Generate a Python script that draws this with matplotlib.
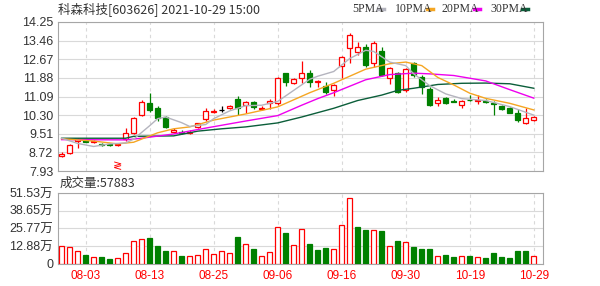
import matplotlib
matplotlib.use("Agg")
import matplotlib.pyplot as plt

plt.rcParams['font.family'] = ['Liberation Sans', 'Noto Sans CJK SC', 'DejaVu Sans']

# trading days 2021-07-29 .. 2021-10-29
dates = ['07-29', '07-30', '08-02', '08-03', '08-04', '08-05', '08-06', '08-09', '08-10', '08-11',
         '08-12', '08-13', '08-16', '08-17', '08-18', '08-19', '08-20', '08-23', '08-24', '08-25',
         '08-26', '08-27', '08-30', '08-31', '09-01', '09-02', '09-03', '09-06', '09-07', '09-08',
         '09-09', '09-10', '09-13', '09-14', '09-15', '09-16', '09-17', '09-22', '09-23', '09-24',
         '09-27', '09-28', '09-29', '09-30', '10-08', '10-11', '10-12', '10-13', '10-14', '10-15',
         '10-18', '10-19', '10-20', '10-21', '10-22', '10-25', '10-26', '10-27', '10-28', '10-29']
tick_dates = ['08-03', '08-13', '08-25', '09-06', '09-16', '09-30', '10-19', '10-29']

opens = [8.57, 8.68, 9.20, 9.24, 9.14, 9.08, 9.08, 9.03, 9.27, 9.55,
         10.30, 10.80, 10.59, 10.21, 9.60, 9.60, 9.54, 9.81, 10.12, 10.42,
         10.52, 10.62, 10.97, 10.73, 10.87, 10.57, 10.80, 10.80, 12.07, 11.68,
         11.86, 12.08, 11.70, 11.53, 11.37, 12.38, 13.13, 12.99, 13.20, 12.50,
         13.03, 11.86, 12.07, 11.37, 12.50, 11.93, 11.40, 10.83, 11.04, 10.88,
         10.74, 10.95, 10.92, 10.88, 10.82, 10.70, 10.59, 10.38, 9.95, 10.10]
highs = [8.72, 9.08, 9.32, 9.28, 9.24, 9.12, 9.12, 9.10, 9.74, 10.20,
         10.95, 11.23, 10.70, 10.25, 9.75, 9.66, 9.65, 9.98, 10.60, 10.55,
         10.70, 10.75, 11.10, 10.88, 10.90, 10.70, 10.98, 11.90, 12.10, 11.86,
         12.61, 12.20, 11.80, 11.70, 11.62, 12.80, 13.80, 13.40, 13.30, 13.45,
         13.20, 12.35, 12.15, 12.30, 12.55, 12.00, 11.50, 11.06, 11.06, 11.00,
         10.95, 11.15, 11.15, 11.00, 10.90, 10.75, 10.65, 10.55, 10.59, 10.25]
lows = [8.52, 8.65, 8.90, 9.14, 9.10, 9.00, 9.00, 9.00, 9.22, 9.50,
        10.25, 10.45, 10.07, 9.75, 9.55, 9.52, 9.50, 9.76, 10.05, 10.38,
        10.43, 10.56, 10.30, 10.37, 10.54, 10.50, 10.55, 10.75, 11.55, 11.60,
        11.68, 11.50, 11.50, 11.20, 11.10, 11.86, 12.52, 12.85, 12.35, 12.35,
        11.95, 11.60, 11.25, 11.30, 11.90, 11.20, 10.68, 10.68, 10.78, 10.85,
        10.60, 10.88, 10.76, 10.80, 10.30, 10.50, 10.38, 10.02, 9.93, 10.05]
closes = [8.65, 9.03, 9.28, 9.18, 9.20, 9.05, 9.05, 9.07, 9.53, 10.16,
          10.87, 10.52, 10.16, 9.81, 9.68, 9.56, 9.60, 9.95, 10.49, 10.48,
          10.52, 10.68, 10.59, 10.84, 10.66, 10.61, 10.92, 11.86, 11.72, 11.82,
          12.07, 11.70, 11.74, 11.29, 11.58, 12.75, 13.70, 13.20, 12.43, 13.37,
          12.00, 12.29, 11.29, 12.24, 12.00, 11.51, 10.75, 10.95, 10.82, 10.86,
          10.91, 10.93, 10.96, 10.86, 10.79, 10.55, 10.40, 10.10, 10.16, 10.22]

# volume in 万
volumes = [12.8, 12.0, 9.1, 6.6, 5.2, 5.2, 3.9, 4.7, 8.1, 16.9,
           18.4, 18.9, 13.0, 9.1, 9.1, 6.1, 5.9, 6.6, 11.0, 7.1,
           9.6, 8.3, 19.9, 14.5, 11.0, 5.9, 8.8, 26.5, 22.8, 13.7,
           25.5, 14.2, 9.8, 11.3, 10.8, 28.0, 48.1, 26.5, 25.0, 25.0,
           23.6, 12.8, 16.9, 15.9, 12.0, 10.8, 10.8, 5.9, 6.6, 5.2,
           5.9, 5.9, 5.2, 4.4, 8.1, 5.2, 4.4, 9.1, 9.1, 5.79]
vol_side = "RRRGRGGRRR" "RGGGRGRRRR" "RRGRGRRRGR" "RGGGRRRGGR" "GRGRGGGRGG" "RGRGGGGGGR"

# moving averages (day index, value)
ma5_idx = [0, 2, 4, 6, 8, 9, 11, 12, 13, 14, 15, 16, 18, 19, 21, 23, 25, 27, 29, 31, 32,
           34, 36, 38, 39, 41, 43, 44, 46, 48, 50, 53, 56, 59]
ma5_val = [9.32, 9.10, 8.97, 9.08, 9.12, 9.28, 9.85, 10.15, 10.22, 10.10, 9.98, 9.82, 9.90,
           10.15, 10.48, 10.70, 10.72, 10.88, 11.35, 11.82, 11.95, 12.15, 12.70, 13.05, 13.00,
           12.55, 12.40, 12.05, 11.55, 11.20, 11.00, 10.92, 10.66, 10.30]
ma10_idx = [0, 4, 7, 9, 12, 14, 16, 19, 23, 27, 31, 34, 38, 41, 43, 45, 47, 49, 51, 53, 56, 59]
ma10_val = [9.30, 9.20, 9.08, 9.15, 9.55, 9.72, 9.80, 10.09, 10.35, 10.65, 11.25, 11.65,
            12.25, 12.48, 12.55, 12.40, 11.90, 11.58, 11.23, 11.01, 10.80, 10.52]
ma20_idx = [0, 8, 10, 14, 18, 23, 27, 30, 32, 34, 38, 41, 44, 46, 49, 53, 56, 59]
ma20_val = [9.26, 9.25, 9.32, 9.50, 9.75, 10.05, 10.28, 10.72, 11.00, 11.25, 11.80, 12.02,
            12.08, 12.05, 11.98, 11.75, 11.38, 11.02]
ma30_idx = [0, 8, 9, 14, 17, 20, 23, 27, 30, 34, 37, 40, 42, 44, 47, 50, 53, 56, 59]
ma30_val = [9.32, 9.32, 9.40, 9.42, 9.62, 9.72, 9.80, 9.97, 10.22, 10.59, 10.92, 11.15,
            11.35, 11.44, 11.60, 11.65, 11.66, 11.63, 11.44]

price_ticks = [7.93, 8.72, 9.51, 10.30, 11.09, 11.88, 12.67, 13.46, 14.25]
vol_ticks = [0, 12.88, 25.77, 38.65, 51.53]

RED = '#ff0000'
GREEN = '#008000'
GRID = '#d9d9d9'
FRAME = '#a6a6a6'
c5, c10, c20, c30 = '#b4b4be', '#f5a623', '#ee00ee', '#0b5e3a'

W, H = 600, 286
fig = plt.figure(figsize=(W / 100, H / 100), dpi=100)
ax1 = fig.add_axes([58 / W, 1 - 171 / H, 485 / W, 149 / H])
ax2 = fig.add_axes([58 / W, 1 - 264 / H, 485 / W, 71 / H])

x = list(range(len(dates)))
tick_pos = [dates.index(d) for d in tick_dates]

for ax in (ax1, ax2):
    ax.set_xlim(-0.45, 60.15)
    for s in ax.spines.values():
        s.set_color(FRAME)
        s.set_linewidth(0.8)
    ax.tick_params(length=0, labelsize=9, colors='#333333')
    for p in tick_pos:
        ax.axvline(p, color=GRID, lw=0.8, ls=(0, (3, 3)), zorder=0)
    ax.set_axisbelow(True)

# candles
bw = 0.62
for i in x:
    o, h, l, c = opens[i], highs[i], lows[i], closes[i]
    if c > o:
        col = RED
    elif c < o:
        col = GREEN
    else:
        col = '#000000'
    ax1.vlines(i, l, h, color=col, lw=0.9, zorder=2)
    if c > o:
        ax1.bar(i, c - o, bw, bottom=o, facecolor='white', edgecolor=col, lw=0.9, zorder=3)
    elif c < o:
        ax1.bar(i, o - c, bw, bottom=c, facecolor=col, edgecolor=col, lw=0.9, zorder=3)
    else:
        ax1.hlines(c, i - bw / 2, i + bw / 2, color=col, lw=0.9, zorder=3)

ax1.plot(ma30_idx, ma30_val, color=c30, lw=1.0, zorder=4)
ax1.plot(ma20_idx, ma20_val, color=c20, lw=1.0, zorder=4)
ax1.plot(ma10_idx, ma10_val, color=c10, lw=1.0, zorder=4)
ax1.plot(ma5_idx, ma5_val, color=c5, lw=1.0, zorder=4)

ax1.set_ylim(price_ticks[0], price_ticks[-1])
ax1.set_yticks(price_ticks)
ax1.set_yticklabels(['%.2f' % v for v in price_ticks])
ax1.set_xticks([])
ax1.grid(axis='y', color=GRID, lw=0.8)
ax1.text(7, 8.12, '≷', color=RED, fontsize=8, ha='center', va='center', family=['DejaVu Sans'])

# volume
for i in x:
    if vol_side[i] == 'R':
        ax2.bar(i, volumes[i], bw, facecolor='white', edgecolor=RED, lw=0.9, zorder=3)
    else:
        ax2.bar(i, volumes[i], bw, facecolor=GREEN, edgecolor=GREEN, lw=0.9, zorder=3)
ax2.set_ylim(0, vol_ticks[-1])
ax2.set_yticks(vol_ticks)
ax2.set_yticklabels(['0'] + ['%.2f万' % v for v in vol_ticks[1:]])
ax2.grid(axis='y', color=GRID, lw=0.8)
ax2.set_xticks(tick_pos)
ax2.set_xticklabels(tick_dates, color=RED, fontsize=8.5)
ax2.tick_params(axis='x', pad=4, labelcolor=RED)

# header texts
fig.text(58 / W, 1 - 9 / H, '科森科技[603626] 2021-10-29 15:00', fontsize=9,
         color='#333333', va='center', family=['Noto Sans CJK SC'])
fig.text(60 / W, 1 - 183 / H, '成交量:57883', fontsize=9, color='#333333', va='center',
         family=['Noto Sans CJK SC'])

leg = [('5PMA', c5, 352), ('10PMA', c10, 395), ('20PMA', c20, 442), ('30PMA', c30, 490)]
for name, col, px in leg:
    t = fig.text(px / W, 1 - 9 / H, name, fontsize=8.5, color='#333333', va='center',
                 family=['Liberation Serif'])
    off = 26 if name == '5PMA' else 32
    fig.add_artist(plt.Line2D([(px + off) / W, (px + off + 6) / W], [1 - 9 / H, 1 - 9 / H],
                              color=col, lw=2.5))

fig.savefig('out.png', dpi=100)
